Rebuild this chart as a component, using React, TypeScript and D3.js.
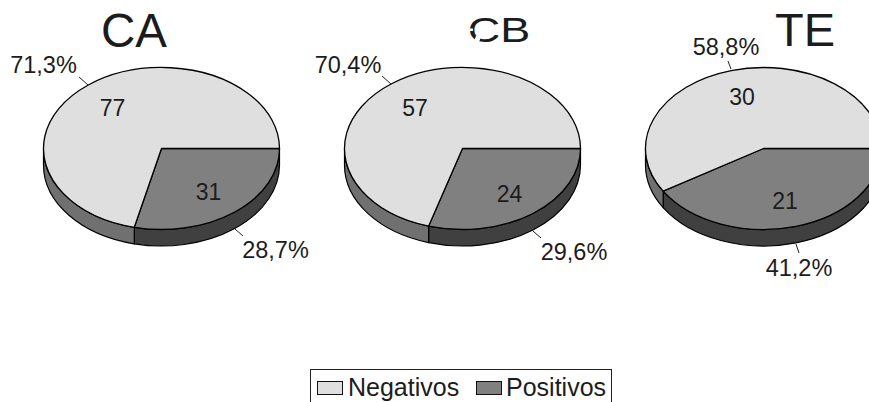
import React from "react";
import * as d3 from "d3";

// Exam groups and their case counts
const groups = ["CA", "CB", "TE"];
const negativos = [77, 57, 30];
const positivos = [31, 24, 21];
const negativoLabels = ["71,3%", "70,4%", "58,8%"];
const positivoLabels = ["28,7%", "29,6%", "41,2%"];
const seriesNames = ["Negativos", "Positivos"];

const W = 869;
const H = 402;
const FONT = "'Liberation Sans', Arial, sans-serif";
const RX = 118;
const RY = 81;
const DEPTH = 16.5;
const CY = 148.5;

const centerX = d3.scalePoint<string>().domain(groups).range([161.5, 763.5]);

const INK = "#1c1c1c";
const topFill = ["#808080", "#dfdfdf"];
const wallFill = ["#404040", "#707070"];

// Per-pie placement of titles and outside labels
const titleAt = [
  { x: 134, y: 46.5, sy: 1, size: 47.5 },
  { x: 499, y: 42, sy: 0.76, size: 45 },
  { x: 805, y: 46, sy: 1, size: 47 },
];
const negLabelAt = [
  { x: 43.5, y: 73, a: [79, 77], b: [88, 85] },
  { x: 348, y: 72.5, a: [382, 76], b: [391, 84] },
  { x: 726, y: 55, a: [728, 61], b: [731, 69] },
];
const posLabelAt = [
  { x: 275.5, y: 258, a: [235, 229], b: [243, 236] },
  { x: 574, y: 260, a: [533, 231], b: [541, 238] },
  { x: 799, y: 275.5, a: [796, 244], b: [799, 253] },
];

// Ellipse point for an angle measured clockwise from 3 o'clock
const px = (cx: number, t: number) => cx + RX * Math.cos(t);
const py = (t: number) => CY + RY * Math.sin(t);

function wallPath(cx: number, a0: number, a1: number) {
  const s = Math.max(a0, 0);
  const e = Math.min(a1, Math.PI);
  if (e <= s) return null;
  const x0 = px(cx, s);
  const y0 = py(s);
  const x1 = px(cx, e);
  const y1 = py(e);
  return `M${x0},${y0}A${RX},${RY} 0 0 1 ${x1},${y1}L${x1},${y1 + DEPTH}A${RX},${RY} 0 0 0 ${x0},${y0 + DEPTH}Z`;
}

function slicePath(cx: number, a0: number, a1: number) {
  const large = a1 - a0 > Math.PI ? 1 : 0;
  return `M${cx},${CY}L${px(cx, a0)},${py(a0)}A${RX},${RY} 0 ${large} 1 ${px(cx, a1)},${py(a1)}Z`;
}

const pieLayout = d3
  .pie<number>()
  .sort(null)
  .startAngle(0)
  .endAngle(2 * Math.PI);

const valueLabelPos = [
  [
    { x: 208.5, y: 200 },
    { x: 112.5, y: 116 },
  ],
  [
    { x: 509.5, y: 202 },
    { x: 415, y: 115.5 },
  ],
  [
    { x: 785, y: 209 },
    { x: 742, y: 105 },
  ],
];

export default function App() {
  return (
    <svg
      width={W}
      height={H}
      viewBox={`0 0 ${W} ${H}`}
      style={{ position: "absolute", left: 0, top: 0, background: "#fff" }}
      fontFamily={FONT}
    >
      {groups.map((g, i) => {
        const cx = centerX(g)!;
        const values = [positivos[i], negativos[i]];
        const arcs = pieLayout(values);
        const title = titleAt[i];
        return (
          <g key={g}>
            {arcs.map((d, j) => {
              const w = wallPath(cx, d.startAngle, d.endAngle);
              return w ? <path key={j} d={w} fill={wallFill[j]} stroke="#000" strokeWidth={1.2} /> : null;
            })}
            {arcs.map((d, j) => (
              <path key={j} d={slicePath(cx, d.startAngle, d.endAngle)} fill={topFill[j]} stroke="#000" strokeWidth={1.3} strokeLinejoin="round" />
            ))}
            {arcs.map((d, j) => (
              <text key={j} x={valueLabelPos[i][j].x} y={valueLabelPos[i][j].y} fontSize={23} fill={INK} textAnchor="middle">
                {d.value}
              </text>
            ))}
            <line x1={negLabelAt[i].a[0]} y1={negLabelAt[i].a[1]} x2={negLabelAt[i].b[0]} y2={negLabelAt[i].b[1]} stroke="#222" strokeWidth={1} />
            <line x1={posLabelAt[i].a[0]} y1={posLabelAt[i].a[1]} x2={posLabelAt[i].b[0]} y2={posLabelAt[i].b[1]} stroke="#222" strokeWidth={1} />
            <text x={negLabelAt[i].x} y={negLabelAt[i].y} fontSize={23.5} fill={INK} textAnchor="middle">
              {negativoLabels[i]}
            </text>
            <text x={posLabelAt[i].x} y={posLabelAt[i].y} fontSize={23.5} fill={INK} textAnchor="middle">
              {positivoLabels[i]}
            </text>
            <text
              transform={`translate(${title.x},${title.y}) scale(1,${title.sy})`}
              fontSize={title.size}
              fill={INK}
              textAnchor="middle"
            >
              {g}
            </text>
          </g>
        );
      })}

      {/* Printing gaps in the CB title's first letter */}
      <rect x={466} y={28.5} width={7} height={2.5} fill="#fff" />
      <rect x={475} y={36} width={5} height={7} fill="#fff" transform="rotate(20 477 39)" />
      <rect x={491} y={28} width={9} height={7} fill="#fff" />

      {/* Legend, whose lower edge runs off the canvas */}
      <rect x={310.5} y={369.5} width={301} height={50} fill="#fff" stroke="#222" strokeWidth={1} />
      {seriesNames.map((name, i) => {
        const sx = [317, 476][i];
        const tx = [348, 506][i];
        const fill = [topFill[1], topFill[0]][i];
        return (
          <g key={name}>
            <rect x={sx + 0.5} y={381.5} width={25} height={13} fill={fill} stroke="#111" strokeWidth={1} />
            <text x={tx} y={396} fontSize={25} fill={INK}>
              {name}
            </text>
          </g>
        );
      })}
    </svg>
  );
}
